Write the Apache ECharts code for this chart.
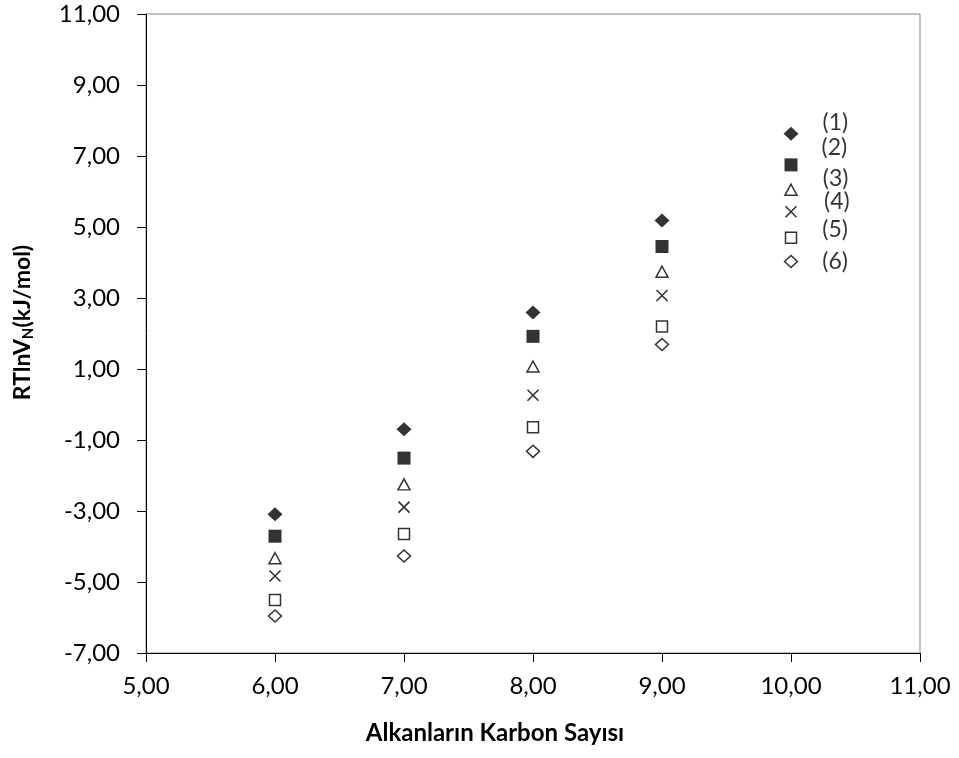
<!DOCTYPE html>
<html>
<head>
<meta charset="utf-8">
<script src="https://cdn.jsdelivr.net/npm/echarts@6/dist/echarts.min.js"></script>
<style>
html,body{margin:0;padding:0;background:#fff;}
#chart{width:959px;height:758px;}
</style>
</head>
<body>
<div id="chart"></div>
<script>
// ---- data ----
var carbonNumbers = [6, 7, 8, 9, 10];
var series1 = [-3.09, -0.70, 2.59, 5.18, 7.63];
var series2 = [-3.71, -1.51, 1.92, 4.45, 6.75];
var series3 = [-4.33, -2.25, 1.07, 3.74, 6.05];
var series4 = [-4.83, -2.89, 0.26, 3.07, 5.43];
var series5 = [-5.51, -3.65, -0.64, 2.20, 4.70];
var series6 = [-5.96, -4.27, -1.32, 1.69, 4.03];
var seriesNames = ['(1)', '(2)', '(3)', '(4)', '(5)', '(6)'];
var xTicks = [5, 6, 7, 8, 9, 10, 11];
var yTicks = [-7, -5, -3, -1, 1, 3, 5, 7, 9, 11];
var xTitle = 'Alkanların Karbon Sayısı';

// ---- styles ----
var FONT = 'Lato';
var allSeries = [series1, series2, series3, series4, series5, series6];
var markerStyles = [
  {symbol: 'diamond', size: [15, 14], item: {color: '#000'}},
  {symbol: 'rect', size: 13, item: {color: '#000'}},
  {symbol: 'triangle', size: [12, 11], item: {color: '#fff', borderColor: '#000', borderWidth: 1.5}},
  {symbol: 'path://M0,0L10,10M10,0L0,10', size: 11, item: {color: 'none', borderColor: '#000', borderWidth: 1.6}},
  {symbol: 'rect', size: 11, item: {color: '#fff', borderColor: '#000', borderWidth: 1.5}},
  {symbol: 'diamond', size: [13, 12], item: {color: '#fff', borderColor: '#000', borderWidth: 1.5}}
];
var labelOffsets = [[24, -11], [24, -17], [25, -11], [25, -10], [25, -8], [24, 0]];

function fmt(v) { return Number(v).toFixed(2).replace('.', ','); }

var chart = echarts.init(document.getElementById('chart'), null, {renderer: 'canvas'});

var series = allSeries.map(function (vals, i) {
  var ms = markerStyles[i];
  return {
    type: 'scatter',
    name: seriesNames[i],
    symbol: ms.symbol,
    symbolSize: ms.size,
    itemStyle: ms.item,
    data: carbonNumbers.map(function (x, j) { return [x, vals[j]]; }),
    label: {
      show: true,
      position: 'right',
      distance: 0,
      offset: labelOffsets[i],
      fontFamily: FONT,
      fontSize: 23,
      color: '#000',
      formatter: function (p) { return p.dataIndex === carbonNumbers.length - 1 ? seriesNames[i] : ''; }
    },
    emphasis: {disabled: true},
    animation: false
  };
});

chart.setOption({
  animation: false,
  grid: {left: 146, right: 39, top: 14, bottom: 105, show: true, borderColor: '#868686', borderWidth: 1, containLabel: false},
  xAxis: {
    type: 'value', min: 5, max: 11, interval: 1,
    axisLine: {show: true, onZero: false, lineStyle: {color: '#000', width: 1}},
    axisTick: {show: true, length: 9, inside: false, lineStyle: {color: '#000'}},
    splitLine: {show: false},
    axisLabel: {margin: 21, fontFamily: FONT, fontSize: 24, color: '#000', formatter: fmt,
                customValues: xTicks},
    name: xTitle,
    nameLocation: 'middle',
    nameGap: 68,
    nameTextStyle: {fontFamily: FONT, fontWeight: 'bold', fontSize: 24, color: '#000', padding: [0, 76, 0, 0]}
  },
  yAxis: {
    type: 'value', min: -7, max: 11, interval: 1,
    axisLine: {show: true, onZero: false, lineStyle: {color: '#000', width: 1}},
    axisTick: {show: true, length: 9, inside: false, lineStyle: {color: '#000'}, customValues: yTicks},
    splitLine: {show: false},
    axisLabel: {margin: 26, fontFamily: FONT, fontSize: 24, color: '#000', formatter: fmt, customValues: yTicks},
    name: '{a|RTlnV}{b|N}{a|(kJ/mol)}',
    nameLocation: 'middle',
    nameGap: 110,
    nameTextStyle: {
      padding: [0, 0, 0, 22],
      rich: {
        a: {fontFamily: FONT, fontWeight: 'bold', fontSize: 23, color: '#000'},
        b: {fontFamily: FONT, fontWeight: 'bold', fontSize: 15, color: '#000', padding: [11, 0, 0, 0]}
      }
    }
  },
  series: series
});
</script>
</body>
</html>
